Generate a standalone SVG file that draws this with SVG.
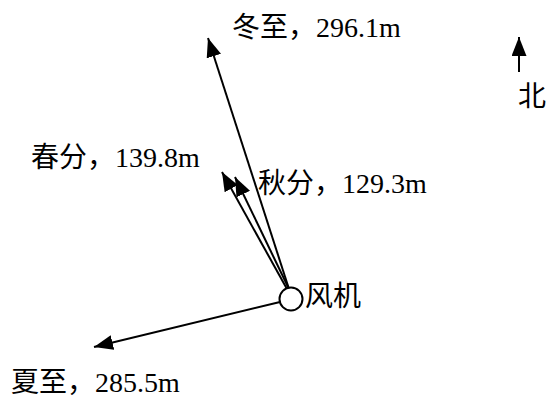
<svg xmlns="http://www.w3.org/2000/svg" width="547" height="403" viewBox="0 0 547 403">
<style>
.t{font-family:"Liberation Serif","Noto Sans CJK SC",serif;font-size:28px;fill:#000}
.l{stroke:#000;stroke-width:2;fill:none}
</style>
<defs>
<marker id="ah" markerUnits="userSpaceOnUse" markerWidth="22" markerHeight="16" refX="19" refY="7.5" orient="auto">
<path d="M0,0 L19,7.5 L0,15 Z" fill="#000"/>
</marker>
</defs>
<rect width="547" height="403" fill="#fff"/>
<g id="connectors">
<line class="l" x1="289" y1="289" x2="208" y2="38" marker-end="url(#ah)"/>
<line class="l" x1="287" y1="289" x2="222" y2="172" marker-end="url(#ah)"/>
<line class="l" x1="289" y1="289" x2="235" y2="177" marker-end="url(#ah)"/>
<line class="l" x1="280" y1="302" x2="94" y2="347" marker-end="url(#ah)"/>
<line class="l" x1="519" y1="72" x2="519" y2="37" marker-end="url(#ah)"/>
</g>
<g id="turbine">
<circle cx="291" cy="299" r="11.5" fill="#fff" stroke="#000" stroke-width="2"/>
<text class="t" x="305" y="306">风机</text>
</g>
<g id="winter"><text class="t" x="232" y="37">冬至，296.1m</text></g>
<g id="spring"><text class="t" x="31" y="167">春分，139.8m</text></g>
<g id="autumn"><text class="t" x="258" y="193">秋分，129.3m</text></g>
<g id="summer"><text class="t" x="11" y="392">夏至，285.5m</text></g>
<g id="north"><text class="t" x="518" y="106">北</text></g>
</svg>
